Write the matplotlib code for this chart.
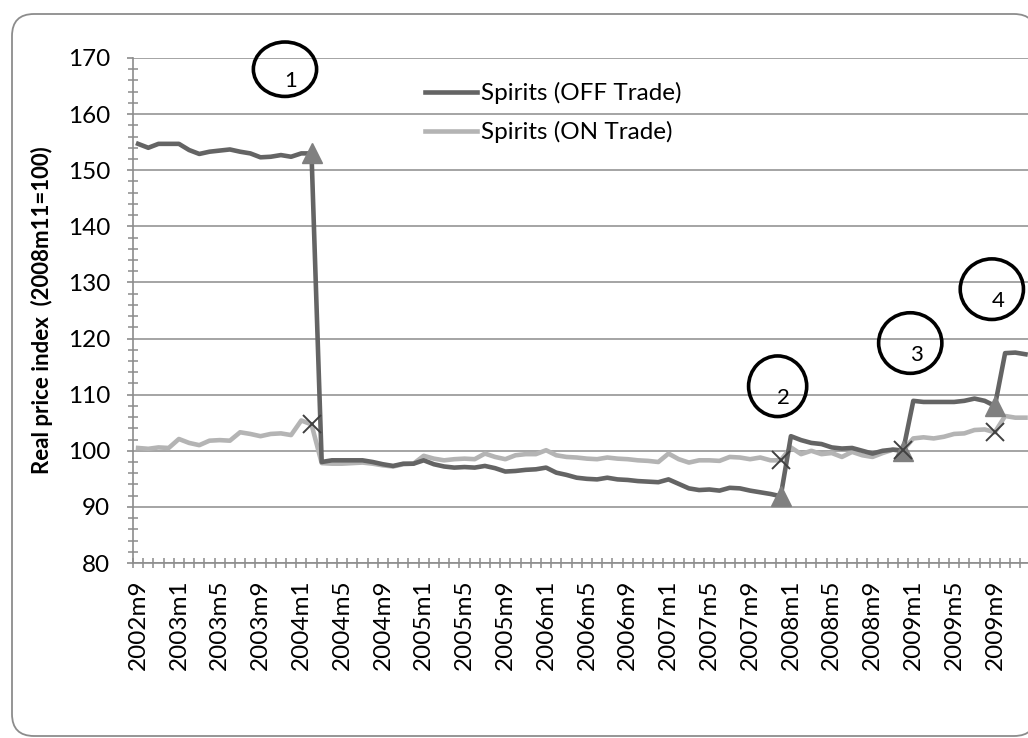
import matplotlib
matplotlib.use("Agg")
import matplotlib.pyplot as plt
from matplotlib.patches import Ellipse, FancyBboxPatch
from matplotlib.ticker import FixedLocator, MultipleLocator

plt.rcParams['font.family'] = ['Lato', 'DejaVu Sans']

# monthly series, 2002m9 .. 2009m12
start_year, start_month = 2002, 9
off_trade = [
    154.7, 154.0, 154.7, 154.7, 154.7, 153.6, 152.9, 153.3, 153.5, 153.7,
    153.3, 153.0, 152.3, 152.4, 152.7, 152.4, 153.0, 153.0,
    98.0, 98.3, 98.3, 98.3, 98.3, 98.0, 97.6, 97.3, 97.7, 97.7, 98.3, 97.6, 97.2, 97.0,
    97.1, 97.0, 97.3, 96.9, 96.3, 96.4, 96.6, 96.7, 97.0, 96.1, 95.7, 95.2, 95.0, 94.9,
    95.2, 94.9, 94.8, 94.6, 94.5, 94.4, 94.9, 94.1, 93.3, 93.0, 93.1, 92.9, 93.4, 93.3,
    92.9, 92.6, 92.3, 91.9,
    102.6, 101.9, 101.4, 101.2, 100.6, 100.4, 100.5, 100.0, 99.5, 100.0, 100.2, 100.0,
    108.9, 108.7, 108.7, 108.7, 108.7, 108.9, 109.3, 108.9, 108.0, 117.4, 117.5, 117.2,
]
on_trade = [
    100.5, 100.35, 100.6, 100.5, 102.1, 101.4, 101.0, 101.8, 101.9, 101.8,
    103.3, 103.0, 102.6, 103.0, 103.1, 102.8, 105.4, 104.7,
    97.8, 97.7, 97.7, 97.8, 97.9, 97.7, 97.4, 97.2, 97.6, 97.7, 99.1, 98.6, 98.3, 98.5,
    98.6, 98.5, 99.5, 98.9, 98.5, 99.2, 99.4, 99.4, 100.1, 99.2, 98.9, 98.8, 98.6, 98.5,
    98.8, 98.6, 98.5, 98.3, 98.2, 98.0, 99.5, 98.5, 97.9, 98.3, 98.3, 98.2, 98.9, 98.8,
    98.5, 98.8, 98.3, 98.3,
    100.6, 99.4, 100.0, 99.4, 99.6, 98.9, 99.8, 99.2, 98.9, 99.6, 100.2, 100.1,
    102.2, 102.4, 102.2, 102.5, 103.0, 103.1, 103.7, 103.8, 103.3, 106.2, 105.9, 105.9,
]
# months where the duty / price changes happened (marked on both series)
event_months = ["2004m2", "2007m12", "2008m12", "2009m9"]
# numbered circles: (label, month, value) for the centre of each circle
circle_notes = [("1", "2003m11", 168.0), ("2", "2007m11", 111.5),
                ("3", "2008m12", 119.2), ("4", "2009m8", 128.8)]

months = []
y, m = start_year, start_month
for _ in off_trade:
    months.append(f"{y}m{m}")
    m += 1
    if m > 12:
        y, m = y + 1, 1
idx = list(range(len(months)))

grey = "#8c8c8c"
fig = plt.figure(figsize=(10.28, 7.38), dpi=100)
frame = FancyBboxPatch((0.12, 0.02), 10.24, 7.22, boxstyle="round,pad=0,rounding_size=0.22",
                       transform=fig.dpi_scale_trans, facecolor="white", edgecolor=grey,
                       linewidth=1.3, zorder=0)
fig.add_artist(frame)

ax = fig.add_axes([133 / 1028, 175 / 738, 895 / 1028, 505 / 738])
ax.patch.set_alpha(0)

l_off, = ax.plot(idx, off_trade, color="#646464", lw=3.3, label="Spirits (OFF Trade)",
                 solid_joinstyle="round", zorder=3)
l_on, = ax.plot(idx, on_trade, color="#b4b4b4", lw=3.3, label="Spirits (ON Trade)",
                solid_joinstyle="round", zorder=2)

ev = [months.index(e) for e in event_months]
ax.plot(ev, [off_trade[i] for i in ev], ls="none", marker="^", ms=14,
        color="#808080", zorder=4)
ax.plot(ev, [on_trade[i] for i in ev], ls="none", marker="x", ms=13, mew=1.4,
        color="#404040", zorder=5)

px_month = 10.2
for lab, mon, val in circle_notes:
    i = months.index(mon) + (0.4 if lab == "1" else 0.7)
    w = 6.2 if lab != "2" else 5.7
    h = 9.7 if lab == "1" else 10.8
    ax.add_patch(Ellipse((i, val), w, h, fill=False, edgecolor="black", lw=2.6,
                         clip_on=False, zorder=6))
    ax.text(i + 0.6, val - 2.1, lab, fontsize=16, ha="center", va="center", zorder=7)

ax.set_xlim(-0.5, -0.5 + 895 / px_month)
ax.set_ylim(80, 170)

ax.yaxis.set_major_locator(MultipleLocator(10))
ax.yaxis.set_minor_locator(MultipleLocator(2))
ax.xaxis.set_major_locator(FixedLocator(idx[::4]))
ax.set_xticklabels(months[::4], rotation=90)
ax.xaxis.set_minor_locator(FixedLocator([i - 0.5 for i in idx] + [idx[-1] + 0.5]))

ax.grid(axis="y", which="major", color=grey, lw=1.1)
for s in ["top", "right"]:
    ax.spines[s].set_visible(False)
for s in ["left", "bottom"]:
    ax.spines[s].set_color(grey)
    ax.spines[s].set_linewidth(1.2)

ax.tick_params(axis="y", which="major", direction="out", length=4.5, width=1.2,
               color=grey, labelsize=17.5, pad=12)
ax.tick_params(axis="y", which="minor", direction="inout", length=7, width=1.1, color=grey)
ax.tick_params(axis="x", which="major", length=0, labelsize=17.5, pad=12)
ax.tick_params(axis="x", which="minor", direction="inout", length=7, width=1.1, color=grey)

ax.set_ylabel("Real price index  (2008m11=100)", fontsize=16, fontweight="bold")
ax.yaxis.set_label_coords(-80 / 895, 0.5)

ax.legend(handles=[l_off, l_on], loc="upper left", frameon=False, fontsize=17.5,
          bbox_to_anchor=(425 / 1028, 1 - 82 / 738), bbox_transform=fig.transFigure,
          borderpad=0, borderaxespad=0, handlelength=2.15, handletextpad=0.17,
          labelspacing=0.7)

fig.savefig("out.png", dpi=100)
